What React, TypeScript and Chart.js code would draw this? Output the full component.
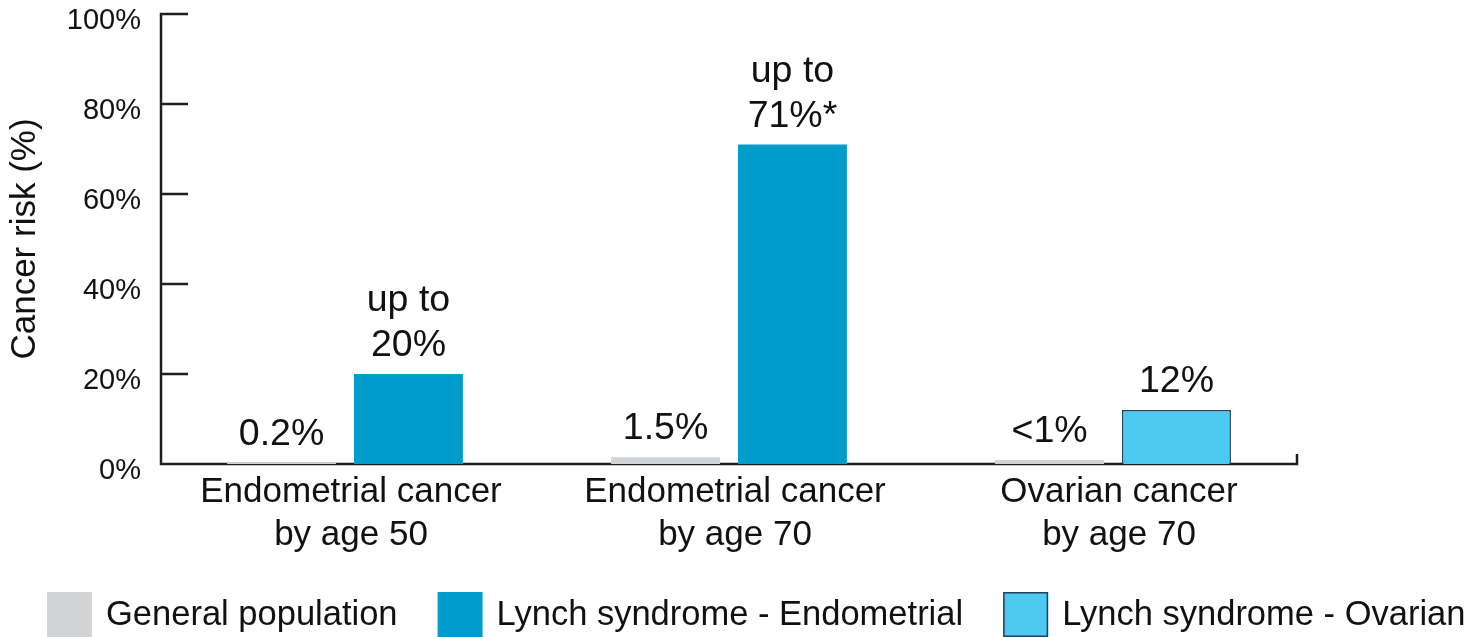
import React, { useEffect, useRef } from "react";
import { Chart, registerables } from "chart.js";

Chart.register(...registerables);

// ---- data ----
const categories: string[][] = [
  ["Endometrial cancer", "by age 50"],
  ["Endometrial cancer", "by age 70"],
  ["Ovarian cancer", "by age 70"],
];
const seriesNames = [
  "General population",
  "Lynch syndrome - Endometrial",
  "Lynch syndrome - Ovarian",
];
const generalPopulation: (number | null)[] = [0.2, 1.5, 0.9];
const lynchEndometrial: (number | null)[] = [20, 71, null];
const lynchOvarian: (number | null)[] = [null, null, 12];

const generalLabels: (string[] | null)[] = [["0.2%"], ["1.5%"], ["<1%"]];
const endometrialLabels: (string[] | null)[] = [["up to", "20%"], ["up to", "71%*"], null];
const ovarianLabels: (string[] | null)[] = [null, null, ["12%"]];

const yTickValues = [0, 20, 40, 60, 80, 100];

// ---- styles ----
const FONT = "'Liberation Sans', Arial, Helvetica, sans-serif";
const TEXT = "#111111";
const AXIS = "#1e1e1e";
const GRAY = "#d1d3d4";
const BLUE = "#009ccb";
const LIGHT_BLUE = "#4dc8f0";
const LIGHT_BLUE_EDGE = "#24405a";

// the drawn axes sit slightly inside the category band
const AXIS_INSET = 8;

const barLabelSets = [generalLabels, endometrialLabels, ovarianLabels];

// Axis lines with inward ticks and a closing tick at the right end of the baseline
const axisFrame = {
  id: "axisFrame",
  beforeDatasetsDraw(chart: any) {
    const { ctx, chartArea } = chart;
    const y = chart.scales.y;
    const top = y.getPixelForValue(100);
    const base = y.getPixelForValue(0);
    const left = chartArea.left + AXIS_INSET;
    const xEnd = chartArea.right - AXIS_INSET;
    const tickLen = 27;
    ctx.save();
    ctx.strokeStyle = AXIS;
    ctx.lineWidth = 2.5;
    ctx.lineJoin = "miter";
    ctx.lineCap = "butt";
    ctx.beginPath();
    ctx.moveTo(left + tickLen, top);
    ctx.lineTo(left, top);
    ctx.lineTo(left, base);
    ctx.lineTo(xEnd, base);
    ctx.lineTo(xEnd, base - 10);
    ctx.stroke();
    ctx.beginPath();
    yTickValues.forEach((v) => {
      if (v === 0 || v === 100) return;
      const py = y.getPixelForValue(v);
      ctx.moveTo(left, py);
      ctx.lineTo(left + tickLen, py);
    });
    ctx.stroke();
    ctx.restore();
  },
};

// Value captions above each bar
const barCaptions = {
  id: "barCaptions",
  afterDatasetsDraw(chart: any) {
    const { ctx } = chart;
    ctx.save();
    ctx.fillStyle = TEXT;
    ctx.font = `37.5px ${FONT}`;
    ctx.textAlign = "center";
    ctx.textBaseline = "alphabetic";
    chart.data.datasets.forEach((_ds: any, di: number) => {
      const meta = chart.getDatasetMeta(di);
      const labels = barLabelSets[di];
      meta.data.forEach((bar: any, i: number) => {
        const lines = labels[i];
        if (!lines || !isFinite(bar.y)) return;
        lines.forEach((line, li) => {
          const yy = bar.y - 18 - (lines.length - 1 - li) * 45;
          ctx.fillText(line, bar.x, yy);
        });
      });
    });
    ctx.restore();
  },
};

// Legend row along the bottom edge
const bottomLegend = {
  id: "bottomLegend",
  afterDraw(chart: any) {
    const { ctx } = chart;
    const box = 45;
    const boxTop = 592;
    const textMid = 615;
    let x = 47;
    ctx.save();
    ctx.font = `34.5px ${FONT}`;
    ctx.textBaseline = "middle";
    ctx.textAlign = "left";
    chart.data.datasets.forEach((ds: any) => {
      ctx.fillStyle = ds.backgroundColor;
      ctx.fillRect(x, boxTop, box, box);
      if (ds.borderWidth) {
        ctx.strokeStyle = ds.borderColor;
        ctx.lineWidth = 1.5;
        ctx.strokeRect(x + 0.75, boxTop + 0.75, box - 1.5, box - 1.5);
      }
      x += box + 14;
      ctx.fillStyle = TEXT;
      ctx.fillText(ds.label, x, textMid);
      x += ctx.measureText(ds.label).width + 40;
    });
    ctx.restore();
  },
};

export default function App() {
  const canvasRef = useRef<HTMLCanvasElement | null>(null);

  useEffect(() => {
    if (!canvasRef.current) return;
    Chart.defaults.font.family = FONT;
    Chart.defaults.color = TEXT;

    const chart = new Chart(canvasRef.current, {
      type: "bar",
      data: {
        labels: categories,
        datasets: [
          {
            label: seriesNames[0],
            data: generalPopulation,
            backgroundColor: GRAY,
            borderWidth: 0,
          },
          {
            label: seriesNames[1],
            data: lynchEndometrial,
            backgroundColor: BLUE,
            borderWidth: 0,
          },
          {
            label: seriesNames[2],
            data: lynchOvarian,
            backgroundColor: LIGHT_BLUE,
            borderColor: LIGHT_BLUE_EDGE,
            borderWidth: 1.5,
          },
        ],
      },
      options: {
        responsive: false,
        animation: false,
        devicePixelRatio: 1,
        layout: { padding: { left: 0, right: 166, top: 14, bottom: 0 } },
        datasets: {
          bar: {
            skipNull: true,
            barPercentage: 0.858,
            categoryPercentage: 0.661,
          },
        },
        plugins: {
          legend: { display: false },
          tooltip: { enabled: false },
        },
        scales: {
          x: {
            grid: { display: false, drawTicks: false },
            border: { display: false },
            ticks: {
              font: { size: 35, lineHeight: 1.25 },
              color: TEXT,
              padding: 6,
              labelOffset: 6,
              maxRotation: 0,
              autoSkip: false,
            },
            afterFit(scale: any) {
              scale.height = 173;
              scale.paddingLeft = 0;
              scale.paddingRight = 0;
            },
          },
          y: {
            min: 0,
            max: 100,
            grid: { display: false, drawTicks: false },
            border: { display: false },
            ticks: {
              stepSize: 20,
              font: { size: 29 },
              color: TEXT,
              padding: 20 - AXIS_INSET,
              labelOffset: 7,
              callback: (v: any) => `${v}%`,
            },
            title: {
              display: true,
              text: "Cancer risk (%)",
              font: { size: 35 },
              color: TEXT,
              padding: { top: 4, bottom: 0 },
            },
            afterFit(scale: any) {
              scale.width = 161 - AXIS_INSET;
              scale.paddingTop = 0;
              scale.paddingBottom = 0;
            },
          },
        },
      },
      plugins: [axisFrame, barCaptions, bottomLegend],
    });

    return () => chart.destroy();
  }, []);

  return (
    <div style={{ position: "absolute", left: 0, top: 0, width: 1471, height: 637, background: "#fff" }}>
      <canvas ref={canvasRef} width={1471} height={637} />
    </div>
  );
}
